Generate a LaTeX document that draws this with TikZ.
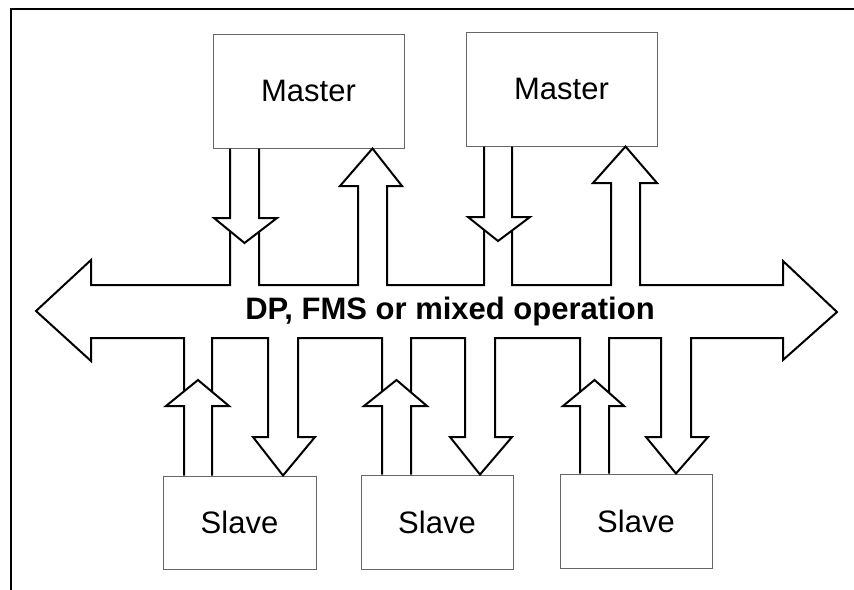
\documentclass[tikz,border=0pt]{standalone}
\usepackage{fontspec}
\setmainfont{Liberation Sans}
\begin{document}
\begin{tikzpicture}[x=1pt,y=-1pt,
  box/.style={draw=black!60,line width=1pt,inner sep=0pt,
    font=\fontsize{31}{36}\selectfont},
  masterbox/.style={box,minimum width=191pt,minimum height=114pt},
  slavebox/.style={box,minimum width=152pt,minimum height=94pt},
  bar/.style={line width=2pt,line join=miter},
  frameline/.style={line width=2.2pt}]
\useasboundingbox (0,0) rectangle (854,589);

% outer frame (top and left edges)
\draw[frameline] (11,600) -- (11,9) -- (870,9);

% stations
\node[masterbox] (m1) at (308.5,91) {Master};
\node[masterbox] (m2) at (561.5,89) {Master};
\node[slavebox,minimum width=153pt,minimum height=93pt] (s1) at (239.5,522.5) {Slave};
\node[slavebox] (s2) at (437,522) {Slave};
\node[slavebox] (s3) at (636,521) {Slave};

% bus label
\node[font=\bfseries\fontsize{31}{36}\selectfont] (bus) at (450,311) {DP, FMS or mixed operation};

% bus outline with its ports
\draw[bar] (230,231.1) -- (230,285) -- (91,285) -- (91,260) -- (36,311)
  -- (91,361) -- (91,338) -- (184,338) -- (184,391.4);
\draw[bar] (212,391.7) -- (212,338) -- (268,338) -- (268,437) -- (253,437)
  -- (283,0 |- s1.north) -- (315,437) -- (298,437) -- (298,338) -- (382,338)
  -- (382,391.6);
\draw[bar] (411,392.4) -- (411,338) -- (465,338) -- (465,437) -- (450,437)
  -- (480,0 |- s2.north) -- (512,437) -- (495,437) -- (495,338) -- (580,338)
  -- (580,392);
\draw[bar] (609,392.8) -- (609,338) -- (661,338) -- (661,437) -- (646,437)
  -- (676,0 |- s3.north) -- (708,437) -- (691,437) -- (691,338) -- (783,338)
  -- (783,360) -- (837,312) -- (783,261) -- (783,285) -- (640,285)
  -- (640,183) -- (657,183) -- (625.5,0 |- m2.south) -- (593,183) -- (611,183)
  -- (611,285) -- (512,285) -- (512,230.5);
\draw[bar] (484,229.8) -- (484,285) -- (387,285) -- (387,186) -- (402,186)
  -- (372.5,0 |- m1.south) -- (340,186) -- (358,186) -- (358,285)
  -- (259,285) -- (259,231.8);

% master to bus arrows
\draw[bar] (230,0 |- m1.south) -- (230,218) -- (214,218) -- (244.5,243)
  -- (277,218) -- (259,218) -- (259,0 |- m1.south);
\draw[bar] (484,0 |- m2.south) -- (484,217) -- (468,217) -- (498,241)
  -- (530,217) -- (512,217) -- (512,0 |- m2.south);

% slave to bus arrows
\draw[bar] (184,0 |- s1.north) -- (184,406) -- (166,406) -- (198,380)
  -- (229,406) -- (212,406) -- (212,0 |- s1.north);
\draw[bar] (382,0 |- s2.north) -- (382,406) -- (364,406) -- (396.5,380)
  -- (427,406) -- (411,406) -- (411,0 |- s2.north);
\draw[bar] (580,0 |- s3.north) -- (580,406) -- (563,406) -- (594.5,380)
  -- (624,406) -- (609,406) -- (609,0 |- s3.north);
\end{tikzpicture}
\end{document}
